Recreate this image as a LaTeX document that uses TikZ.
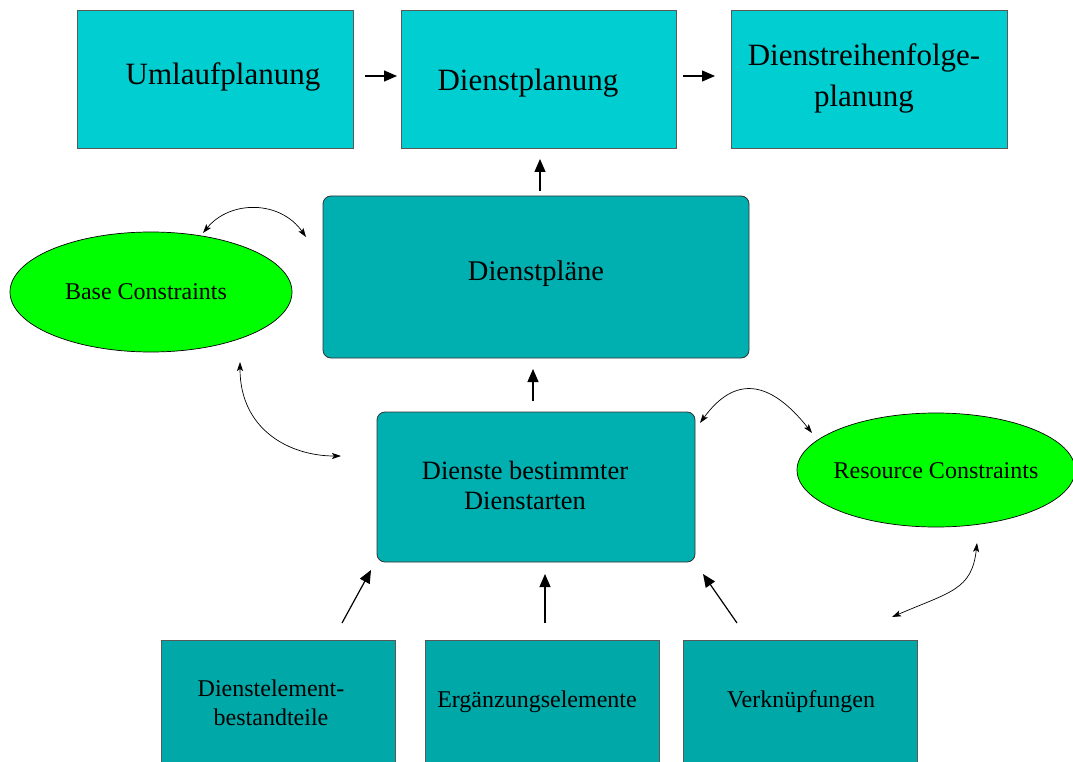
\documentclass[tikz,border=0pt]{standalone}
\usepackage{fontspec}
\setmainfont{Liberation Serif}
\usetikzlibrary{arrows.meta,shapes.geometric}
\definecolor{topcyan}{RGB}{0,206,209}
\definecolor{midcyan}{RGB}{0,176,176}
\definecolor{botcyan}{RGB}{0,168,168}
\definecolor{lime}{RGB}{0,255,0}
\begin{document}
\begin{tikzpicture}[x=1pt,y=-1pt,
  topbox/.style={draw=black!65, fill=topcyan, line width=0.8pt, inner sep=0pt},
  midbox/.style={draw=black!80, fill=midcyan, line width=0.8pt, rounded corners=8pt, inner sep=0pt},
  botbox/.style={draw=black!65, fill=botcyan, line width=0.8pt, inner sep=0pt},
  constr/.style={draw=black, fill=lime, ellipse, line width=0.7pt, inner sep=0pt},
  bigtxt/.style={font=\fontsize{31}{41}\selectfont, align=center, inner sep=0pt},
  medtxt/.style={font=\fontsize{28.5}{34}\selectfont, align=center, inner sep=0pt},
  mtxt/.style={font=\fontsize{26.4}{30}\selectfont, align=center, inner sep=0pt},
  smtxt/.style={font=\fontsize{24}{29}\selectfont, align=center, inner sep=0pt},
  flow/.style={line width=1.2pt, -{Triangle[length=13pt,width=11pt]}},
  link/.style={line width=0.7pt, {Stealth[length=9pt,width=6pt,inset=2pt]}-{Stealth[length=9pt,width=6pt,inset=2pt]}}
]
\clip (0,0) rectangle (1073,762);
\fill[white] (0,0) rectangle (1073,762);

% top row
\node[topbox, minimum width=276pt, minimum height=138pt] (uml) at (215,79) {};
\node[topbox, minimum width=275pt, minimum height=138pt] (dpl) at (538.5,79) {};
\node[topbox, minimum width=276pt, minimum height=138pt] (drf) at (869,79) {};
\node[bigtxt] (umlT) at (223,77) {Umlaufplanung};
\node[bigtxt] (dplT) at (528,83) {Dienstplanung};
\node[bigtxt] (drfT) at (864,78.5) {Dienstreihenfolge-\\planung};

% middle
\node[midbox, minimum width=426pt, minimum height=162pt] (plaene) at (536,277) {};
\node[medtxt] (plaeneT) at (536,274) {Dienstpläne};
\node[midbox, minimum width=318pt, minimum height=150pt] (dienste) at (536,487) {};
\node[mtxt] (diensteT) at (525,485.5) {Dienste bestimmter\\Dienstarten};

% constraints
\node[constr, minimum width=282pt, minimum height=120pt] (base) at (151,292) {};
\node[smtxt] (baseT) at (146,292) {Base Constraints};
\node[constr, minimum width=278pt, minimum height=114pt] (res) at (936,470) {};
\node[smtxt] (resT) at (936,471) {Resource Constraints};

% bottom
\node[botbox, minimum width=234pt, minimum height=140pt] (bes) at (278,710) {};
\node[smtxt] (besT) at (271,702.5) {Dienstelement-\\bestandteile};
\node[botbox, minimum width=234pt, minimum height=140pt] (erg) at (542,710) {};
\node[smtxt] (ergT) at (537,702) {Ergänzungselemente};
\node[botbox, minimum width=234pt, minimum height=140pt] (ver) at (800,710) {};
\node[smtxt] (verT) at (801,702) {Verknüpfungen};

% coordinates for arrows
\coordinate (a1s) at (365,76); \coordinate (a1e) at (397,76);
\coordinate (a2s) at (683,76); \coordinate (a2e) at (715,76);
\coordinate (a3s) at (540,191); \coordinate (a3e) at (540,159);
\coordinate (a4s) at (533,401); \coordinate (a4e) at (533,369);
\coordinate (b1s) at (342,623); \coordinate (b1e) at (371,570);
\coordinate (b2s) at (545,623); \coordinate (b2e) at (545,574);
\coordinate (b3s) at (737,623); \coordinate (b3e) at (703,574);

\draw[flow] (a1s) -- (a1e);
\draw[flow] (a2s) -- (a2e);
\draw[flow] (a3s) -- (a3e);
\draw[flow] (a4s) -- (a4e);
\draw[flow] (b1s) -- (b1e);
\draw[flow] (b2s) -- (b2e);
\draw[flow] (b3s) -- (b3e);

% curved links
\coordinate (c1s) at (203,233); \coordinate (c1e) at (306,237);
\coordinate (c2s) at (240,362); \coordinate (c2e) at (341,456);
\coordinate (c3s) at (700,423); \coordinate (c3e) at (812,433);
\coordinate (c4s) at (892,617); \coordinate (c4e) at (977,543);
\draw[link] (c1s) .. controls (230,200) and (280,200) .. (c1e);
\draw[link] (c2s) .. controls (240,430) and (290,456) .. (c2e);
\draw[link] (c3s) .. controls (735,375) and (770,380) .. (c3e);
\draw[link] (c4s) .. controls (950,592) and (972,590) .. (c4e);
\end{tikzpicture}
\end{document}
